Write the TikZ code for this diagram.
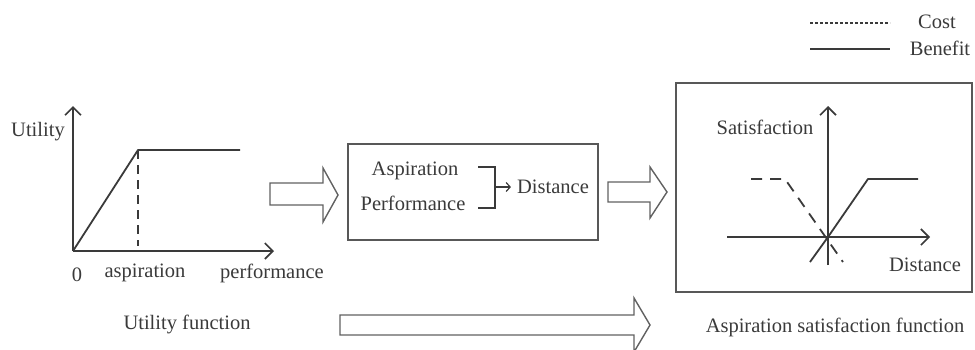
\documentclass[tikz,border=0pt]{standalone}
\usepackage{fontspec}
\setmainfont{Liberation Serif}
\usetikzlibrary{arrows.meta}
\definecolor{ink}{HTML}{3A3A3A}
\tikzset{
  lbl/.style={text=ink, inner sep=0pt, font=\fontsize{20.5}{24}\selectfont},
  curve/.style={draw=ink, line width=1.8pt},
  axis/.style={draw=ink, line width=1.8pt, -{Straight Barb[length=8pt,width=16pt,line width=1.6pt]}},
  blockarrow/.style={draw=ink!80, line width=1.4pt, fill=white, line join=miter},
  frame/.style={draw=ink!85, line width=1.5pt},
}
\begin{document}
\begin{tikzpicture}[x=1pt,y=-1pt]
\useasboundingbox (0,0) rectangle (975,349);
\clip (0,0) rectangle (975,349);

% legend
\coordinate (lc1) at (810,23);  \coordinate (lc2) at (890,23);
\coordinate (lb1) at (810,49);  \coordinate (lb2) at (890,49);
\draw[draw=ink, line width=1.1pt, dash pattern=on 3pt off 2pt] (lc1) -- (lc2);
\draw[draw=ink, line width=1.6pt] (lb1) -- (lb2);
\node[lbl] (cost) at (937,22) {Cost};
\node[lbl] (benefit) at (940,48) {Benefit};

% utility function plot
\coordinate (uo) at (73,251);
\coordinate (uy) at (73,106);
\coordinate (ux) at (274,251);
\coordinate (ua) at (138,150);
\coordinate (ue) at (240,150);
\coordinate (ud) at (138,246);
\draw[axis] (uo) -- (uy);
\draw[axis] (uo) -- (ux);
\draw[curve, line join=round] (uo) -- (ua) -- (ue);
\draw[draw=ink, line width=1.8pt, dash pattern=on 9pt off 6pt] (ua) -- (ud);
\node[lbl] (utility) at (38,132) {Utility};
\node[lbl] (zero) at (77,275) {0};
\node[lbl] (aspx) at (145,273) {aspiration};
\node[lbl] (perfx) at (272,273) {performance};
\node[lbl] (ufun) at (187,324) {Utility function};

% first block arrow
\draw[blockarrow] (270,183) -- (323,183) -- (323,168) -- (338,195) -- (323,222) -- (323,205) -- (270,205) -- cycle;

% distance box
\draw[frame] (348,144) rectangle (598,240);
\node[lbl] (asp) at (415,171) {Aspiration};
\node[lbl] (perf) at (413,203) {Performance};
\node[lbl] (dist) at (553,187) {Distance};
\coordinate (bt) at (478,167);
\coordinate (bb) at (478,208);
\coordinate (bm) at (495,187);
\draw[draw=ink, line width=1.4pt] (bt) -- (bt -| bm) -- (bb -| bm) -- (bb);
\draw[draw=ink, line width=1.3pt, shorten >=6pt, -{Straight Barb[length=4pt,width=9pt,line width=1.2pt]}] (bm) -- (dist.west);

% second block arrow
\draw[blockarrow] (608,182) -- (650,182) -- (650,167) -- (667,192) -- (650,218) -- (650,202) -- (608,202) -- cycle;

% aspiration satisfaction plot
\draw[frame] (676,83) rectangle (972,292);
\coordinate (so) at (828,237);
\coordinate (sy0) at (828,265);
\coordinate (sy) at (828,106);
\coordinate (sx0) at (727,237);
\coordinate (sx) at (930,237);
\draw[axis] (sy0) -- (sy);
\draw[axis] (sx0) -- (sx);
\coordinate (bs) at (810,262);
\coordinate (bk) at (868,179);
\coordinate (be) at (918,179);
\draw[curve, line join=round] (bs) -- (so) -- (bk) -- (be);
\coordinate (cs) at (751,179);
\coordinate (ck) at (785,179);
\coordinate (ce) at (843,262);
\draw[draw=ink, line width=1.8pt, dash pattern=on 11pt off 8pt] (cs) -- (ck) -- (ce);
\node[lbl] (sat) at (765,127) {Satisfaction};
\node[lbl] (distx) at (925,265) {Distance};

% bottom block arrow
\draw[blockarrow] (340,315) -- (634,315) -- (634,298) -- (650,325) -- (634,352) -- (634,335) -- (340,335) -- cycle;
\node[lbl] (sfun) at (835,327) {Aspiration satisfaction function};
\end{tikzpicture}
\end{document}
